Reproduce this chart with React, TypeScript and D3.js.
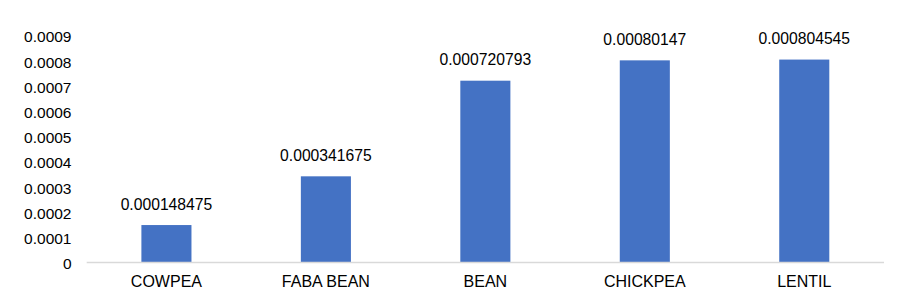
import { useEffect, useRef } from 'react';
import * as d3 from 'd3';

const categories = ['COWPEA', 'FABA BEAN', 'BEAN', 'CHICKPEA', 'LENTIL'];
const values = [0.000148475, 0.000341675, 0.000720793, 0.00080147, 0.000804545];
const valueLabels = ['0.000148475', '0.000341675', '0.000720793', '0.00080147', '0.000804545'];
const yTicks = [0, 0.0001, 0.0002, 0.0003, 0.0004, 0.0005, 0.0006, 0.0007, 0.0008, 0.0009];

const width = 911;
const height = 306;

export default function App() {
  const svgRef = useRef<SVGSVGElement>(null);

  useEffect(() => {
    if (!svgRef.current) return;
    const svg = d3.select(svgRef.current);
    svg.selectAll('*').remove();

    const left = 86.7;
    const right = 884;
    const baseY = 262.5;
    const topY = 35.5;

    const x = d3.scaleBand<string>()
      .domain(categories)
      .range([left, right])
      .paddingInner(0.686)
      .paddingOuter(0.343);

    const y = d3.scaleLinear().domain([0, 0.0009]).range([baseY, topY]);

    const font = '"Liberation Sans", Arial, sans-serif';

    // y tick labels
    svg.append('g')
      .selectAll('text')
      .data(yTicks)
      .enter()
      .append('text')
      .attr('x', 71.5)
      .attr('y', d => y(d) + 6.8)
      .attr('text-anchor', 'end')
      .style('font-family', font)
      .style('font-size', '15.5px')
      .style('fill', '#000')
      .text(d => (d === 0 ? '0' : d3.format('.4f')(d)));

    // bars
    svg.append('g')
      .selectAll('rect')
      .data(values)
      .enter()
      .append('rect')
      .attr('x', (_, i) => x(categories[i])!)
      .attr('y', d => y(d))
      .attr('width', x.bandwidth())
      .attr('height', d => baseY - y(d))
      .attr('fill', '#4472C4');

    // value labels
    svg.append('g')
      .selectAll('text')
      .data(values)
      .enter()
      .append('text')
      .attr('x', (_, i) => x(categories[i])! + x.bandwidth() / 2)
      .attr('y', d => y(d) - 15.5)
      .attr('text-anchor', 'middle')
      .style('font-family', font)
      .style('font-size', '15.7px')
      .style('fill', '#000')
      .text((_, i) => valueLabels[i]);

    // axis line
    svg.append('line')
      .attr('x1', left)
      .attr('x2', right)
      .attr('y1', baseY)
      .attr('y2', baseY)
      .attr('stroke', '#d9d9d9')
      .attr('stroke-width', 1.5);

    // category labels
    svg.append('g')
      .selectAll('text')
      .data(categories)
      .enter()
      .append('text')
      .attr('x', d => x(d)! + x.bandwidth() / 2)
      .attr('y', baseY + 24.2)
      .attr('text-anchor', 'middle')
      .style('font-family', font)
      .style('font-size', '16px')
      .style('fill', '#000')
      .text(d => d);
  }, []);

  return (
    <div style={{ position: 'fixed', left: 0, top: 0, width, height, background: '#fff' }}>
      <svg ref={svgRef} width={width} height={height} style={{ display: 'block' }} />
    </div>
  );
}
